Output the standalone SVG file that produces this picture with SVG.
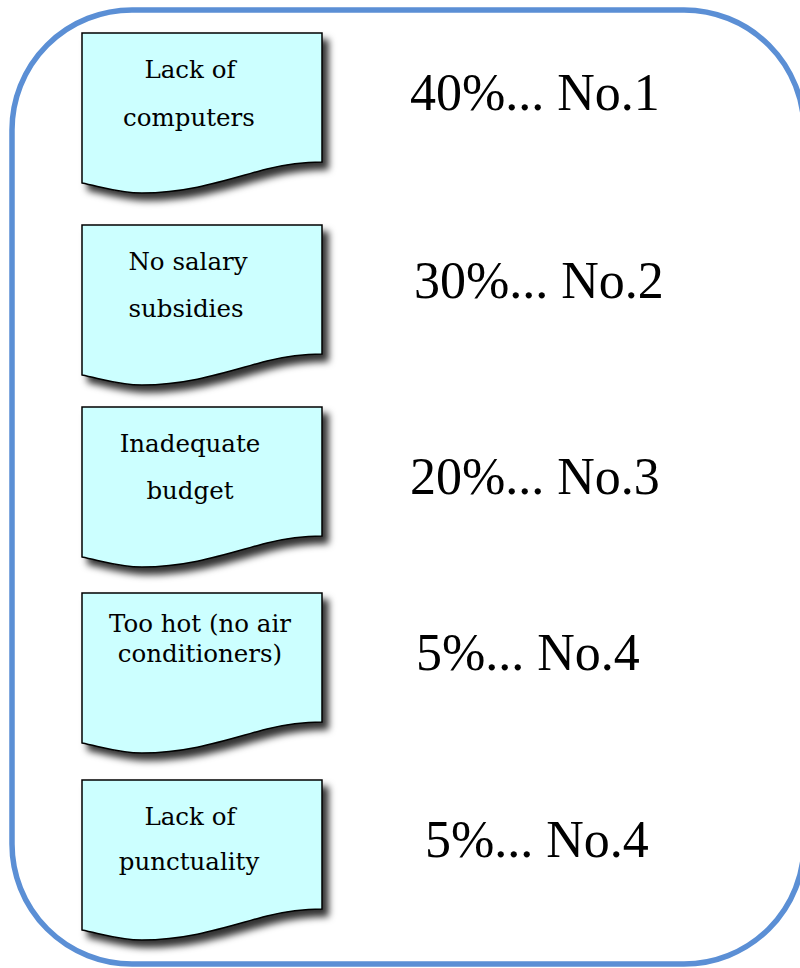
<svg xmlns="http://www.w3.org/2000/svg" width="800" height="968" viewBox="0 0 800 968">
  <style>
    .doc { fill: #ccffff; stroke: #000; stroke-width: 1.5; filter: url(#shadow); }
    .dt { font-family: "DejaVu Serif", serif; font-size: 24.5px; fill: #000; text-anchor: middle; }
    .pct { font-family: "Liberation Serif", "Times New Roman", serif; font-size: 52px; fill: #000; }
  </style>
  <defs>
    <filter id="shadow" x="-10%" y="-10%" width="130%" height="130%">
      <feDropShadow dx="6" dy="7" stdDeviation="3.5" flood-color="#000" flood-opacity="0.8"/>
    </filter>
    <path id="docshape" d="M0,0 H240 V129 C222,129 205,131 185,136 C150,145 110,160 60,160 C38,160 20,154 0,150 Z"/>
  </defs>
  <rect x="0" y="0" width="800" height="968" fill="#ffffff"/>
  <g id="frame">
    <rect x="12" y="10" width="792" height="954" rx="120" ry="120" fill="none" stroke="#5b8fd5" stroke-width="5.5"/>
  </g>

  <g id="node1">
    <use href="#docshape" class="doc" transform="translate(82,33)"/>
    <text class="dt" x="190" y="78">Lack of</text>
    <text class="dt" x="189" y="126">computers</text>
  </g>
  <g id="node2">
    <use href="#docshape" class="doc" transform="translate(82,225)"/>
    <text class="dt" x="188" y="270">No salary</text>
    <text class="dt" x="186" y="317">subsidies</text>
  </g>
  <g id="node3">
    <use href="#docshape" class="doc" transform="translate(82,407)"/>
    <text class="dt" x="190" y="452">Inadequate</text>
    <text class="dt" x="190" y="499">budget</text>
  </g>
  <g id="node4">
    <use href="#docshape" class="doc" transform="translate(82,593)"/>
    <text class="dt" x="200" y="632">Too hot (no air</text>
    <text class="dt" x="200" y="662">conditioners)</text>
  </g>
  <g id="node5">
    <use href="#docshape" class="doc" transform="translate(82,780)"/>
    <text class="dt" x="190" y="825">Lack of</text>
    <text class="dt" x="189" y="870">punctuality</text>
  </g>

  <g id="label1"><text class="pct" x="410" y="110">40%... No.1</text></g>
  <g id="label2"><text class="pct" x="414" y="298">30%... No.2</text></g>
  <g id="label3"><text class="pct" x="410" y="494">20%... No.3</text></g>
  <g id="label4"><text class="pct" x="416" y="670">5%... No.4</text></g>
  <g id="label5"><text class="pct" x="425" y="857">5%... No.4</text></g>
</svg>
